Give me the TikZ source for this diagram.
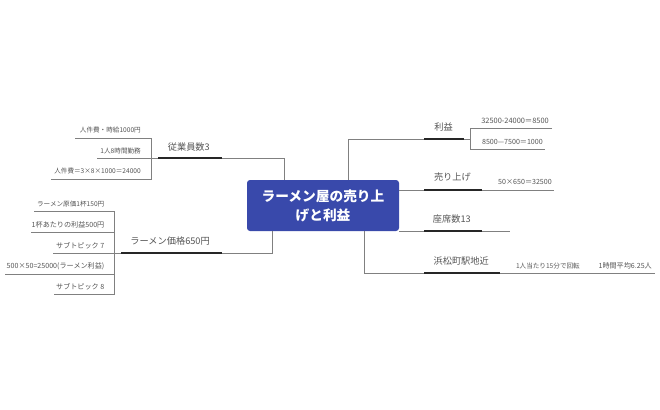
\documentclass[tikz,border=0pt]{standalone}
\usepackage{fontspec}
\setmainfont{Noto Sans CJK JP}
\usepackage{tikz}
\usetikzlibrary{positioning}
\definecolor{rootblue}{RGB}{57,73,171}
\definecolor{labelgray}{RGB}{85,85,85}
\tikzset{
	rootbox/.style={fill=rootblue,rounded corners=3pt,minimum width=152pt,minimum height=51pt,inner sep=0pt,align=center,text=white,font=\fontsize{13.7}{19}\selectfont\bfseries},
	topic/.style={anchor=east,inner sep=0pt,text=labelgray,font=\fontsize{9.2}{11}\selectfont},
	leaf/.style={anchor=east,inner sep=0pt,text=labelgray,font=\fontsize{6.6}{8}\selectfont},
	leafwide/.style={leaf,font=\fontsize{7.1}{8}\selectfont},
	bar/.style={line width=2pt,black!85},
	branch/.style={line width=0.9pt,black!50},
	twig/.style={line width=0.8pt,black!50}
}

\begin{document}
\begin{tikzpicture}[x=1pt,y=-1pt]
	\useasboundingbox (0,0) rectangle (660,409);
	\fill[white] (0,0) rectangle (660,409);
	\node[rootbox] (root) at (323,205.5) {ラーメン屋の売り上\\げと利益};

	% staff
	\coordinate (staffL) at (158,158);
	\coordinate (staffR) at (222,158);
	\coordinate (staffRoot) at (284,180);
	\coordinate (staffA) at (75,138);
	\coordinate (staffAe) at (151,138);
	\coordinate (staffB) at (97,158);
	\coordinate (staffC) at (51,179);
	\coordinate (staffCe) at (151,179);
	\node[topic] (staff) at (210,147) {従業員数3};
	\node[leaf] (staffa) at (141,130) {人件費・時給1000円};
	\node[leaf] (staffb) at (141,151) {1人8時間勤務};
	\node[leaf] (staffc) at (141,171.5) {人件費＝3×8×1000＝24000};
	\draw[branch] (staffR)-|(staffRoot);
	\draw[twig] (staffA)--(staffAe)--(staffCe)--(staffC);
	\draw[twig] (staffB)--(staffL);
	\draw[bar] (staffL)--(staffR);

	% price
	\coordinate (priceL) at (121,253);
	\coordinate (priceR) at (222,253);
	\coordinate (priceRoot) at (272,231);
	\coordinate (priceA) at (34,211.5);
	\coordinate (priceAe) at (114.5,211.5);
	\coordinate (priceB) at (31,232.5);
	\coordinate (priceBe) at (114.5,232.5);
	\coordinate (priceC) at (53,253);
	\coordinate (priceD) at (5,274);
	\coordinate (priceDe) at (114.5,274);
	\coordinate (priceE) at (54,294.5);
	\coordinate (priceEe) at (114.5,294.5);
	\node[topic] (price) at (210,241) {ラーメン価格650円};
	\node[leaf] (pricea) at (104.5,204) {ラーメン原価1杯150円};
	\node[leafwide] (priceb) at (104.5,225) {1杯あたりの利益500円};
	\node[leafwide] (pricec) at (104.5,245.5) {サブトピック 7};
	\node[leafwide] (priced) at (104.5,266.5) {500×50=25000(ラーメン利益)};
	\node[leafwide] (pricee) at (104.5,287) {サブトピック 8};
	\draw[branch] (priceR)-|(priceRoot);
	\draw[twig] (priceA)--(priceAe)--(priceEe)--(priceE);
	\draw[twig] (priceB)--(priceBe);
	\draw[twig] (priceD)--(priceDe);
	\draw[twig] (priceC)--(priceL);
	\draw[bar] (priceL)--(priceR);

	% profit
	\coordinate (profitL) at (424,139);
	\coordinate (profitR) at (464,139);
	\coordinate (profitRoot) at (348,180);
	\coordinate (profitHub) at (470.5,139);
	\coordinate (profitA) at (470.5,128.5);
	\coordinate (profitAe) at (552,128.5);
	\coordinate (profitB) at (470.5,149);
	\coordinate (profitBe) at (545,149);
	\node[topic] (profit) at (453,127) {利益};
	\node[leaf,font=\fontsize{7.4}{8}\selectfont] (profita) at (549,121) {32500-24000＝8500};
	\node[leafwide] (profitb) at (543,142) {8500—7500＝1000};
	\draw[branch] (profitRoot)|-(profitL);
	\draw[twig] (profitR)--(profitHub);
	\draw[twig] (profitAe)--(profitA)--(profitB)--(profitBe);
	\draw[bar] (profitL)--(profitR);

	% sales
	\coordinate (salesRoot) at (399,190);
	\coordinate (salesL) at (424,190);
	\coordinate (salesR) at (482,190);
	\coordinate (salesEnd) at (554,190);
	\node[topic] (sales) at (471,177) {売り上げ};
	\node[leafwide] (salesa) at (552,182) {50×650＝32500};
	\draw[branch] (salesRoot)--(salesL);
	\draw[twig] (salesR)--(salesEnd);
	\draw[bar] (salesL)--(salesR);

	% seats
	\coordinate (seatRoot) at (399,231);
	\coordinate (seatL) at (424,231);
	\coordinate (seatR) at (482,231);
	\coordinate (seatEnd) at (510,231);
	\node[topic] (seat) at (471,219) {座席数13};
	\draw[branch] (seatRoot)--(seatL);
	\draw[twig] (seatR)--(seatEnd);
	\draw[bar] (seatL)--(seatR);

	% station
	\coordinate (stationRoot) at (364,231);
	\coordinate (stationL) at (424,273);
	\coordinate (stationR) at (500,273);
	\coordinate (stationEnd) at (655,273);
	\node[topic] (station) at (489,261) {浜松町駅地近};
	\node[leaf] (stationa) at (580,266) {1人当たり15分で回転};
	\node[leafwide] (stationb) at (652,266) {1時間平均6.25人};
	\draw[branch] (stationRoot)|-(stationL);
	\draw[twig] (stationR)--(stationEnd);
	\draw[bar] (stationL)--(stationR);
\end{tikzpicture}
\end{document}
